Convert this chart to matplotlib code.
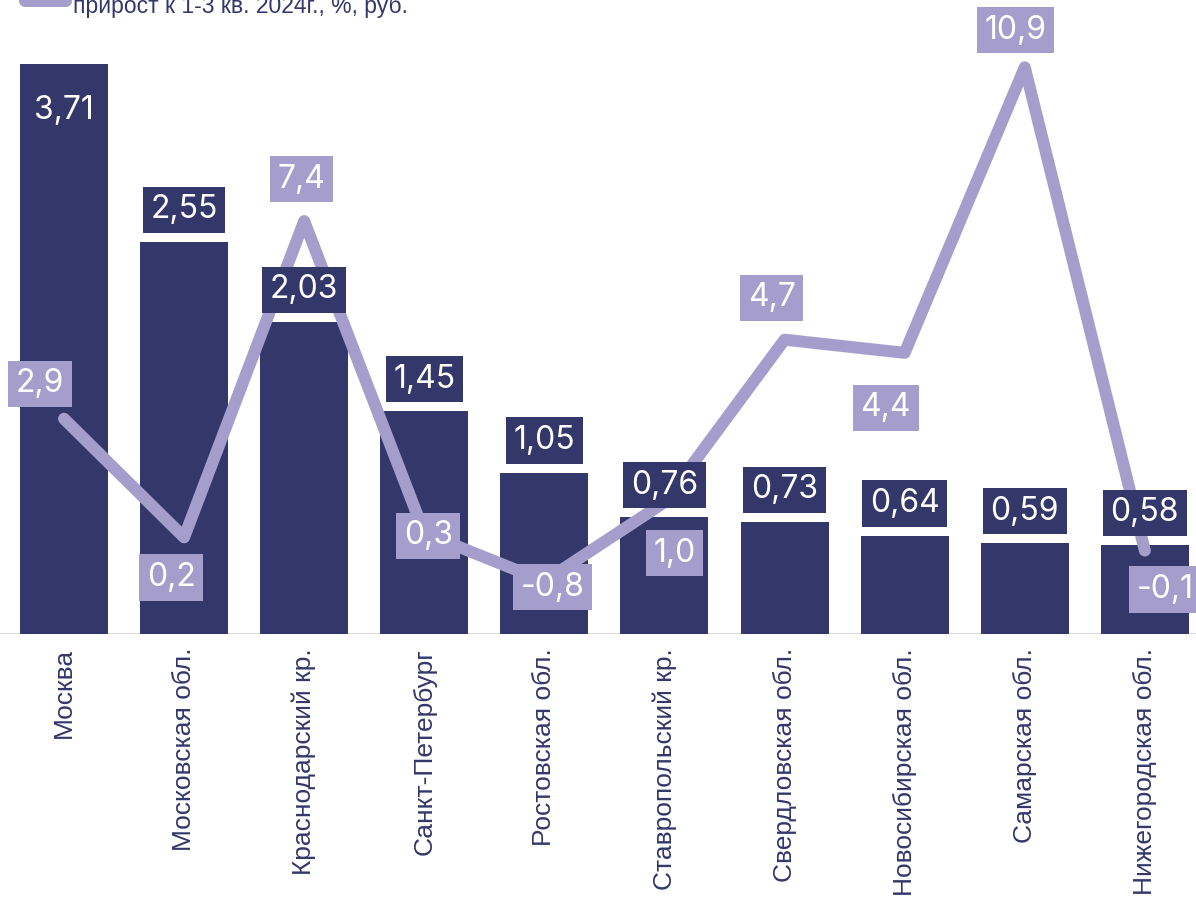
import matplotlib
matplotlib.use("Agg")
import matplotlib.pyplot as plt
from matplotlib.lines import Line2D
import numpy as np

# data
regions = ["Москва", "Московская обл.", "Краснодарский кр.", "Санкт-Петербург",
           "Ростовская обл.", "Ставропольский кр.", "Свердловская обл.",
           "Новосибирская обл.", "Самарская обл.", "Нижегородская обл."]
bar_values = [3.71, 2.55, 2.03, 1.45, 1.05, 0.76, 0.73, 0.64, 0.59, 0.58]
growth_values = [2.9, 0.2, 7.4, 0.3, -0.8, 1.0, 4.7, 4.4, 10.9, -0.1]
legend_text = "прирост к 1-3 кв. 2024г., %, руб."

NAVY = "#33376A"
LILAC = "#A59ECC"
GREY = "#D9D9D9"

W, H = 1196, 901
fig = plt.figure(figsize=(W / 100, H / 100), dpi=100)
# axes spans from pixel y=19 down to y=634, full width
ax = fig.add_axes([0, (H - 634) / H, 1, (634 - 19) / H])
ax2 = ax.twinx()

x = np.arange(len(regions))
ax.bar(x, bar_values, width=0.733, color=NAVY, zorder=2)
ax.set_xlim(-0.533, 9.426)
ax.set_ylim(0, 4)
ax2.set_ylim(-2, 12)
ax.axhline(0, color=GREY, lw=2.2, zorder=1)

for a in (ax, ax2):
    for s in a.spines.values():
        s.set_visible(False)
    a.set_yticks([])
ax2.set_zorder(ax.get_zorder() + 1)
ax.patch.set_visible(False)

ax.set_xticks(x)
ax.set_xticklabels(regions, rotation=90, fontsize=19, color=NAVY,
                   family=["Liberation Sans", "DejaVu Sans"], va="top")
ax.tick_params(axis="x", length=0, pad=10)

px = 0.72  # pixels -> points

# growth line on the secondary axis
ax2.plot(x, growth_values, color=LILAC, lw=12 * px, solid_joinstyle="round",
         solid_capstyle="round", zorder=3)

# bar labels (on ax2 so they sit above the line)
for i, v in enumerate(bar_values):
    dy = -47 if i == 0 else 32
    ax2.annotate(f"{v:.2f}".replace(".", ","), (x[i], v), xycoords=ax.transData,
                 xytext=(0, dy * px), textcoords="offset points",
                 ha="center", va="center", fontsize=23, color="white",
                 family=["Inter", "DejaVu Sans"],
                 bbox=dict(boxstyle="square,pad=0.24", fc=NAVY, ec="none"),
                 zorder=4)

label_offsets = [(-24, 35), (-13, -40), (-3, 42), (4, -3), (8, -6),
                 (10, -51), (-13, 42), (-19, -55), (-9, 37), (20, -39)]
for i, v in enumerate(growth_values):
    dx, dy = label_offsets[i]
    ax2.annotate(f"{v:.1f}".replace(".", ","), (x[i], v),
                 xytext=(dx * px, dy * px), textcoords="offset points",
                 ha="center", va="center", fontsize=23, color="white",
                 family=["Inter", "DejaVu Sans"],
                 bbox=dict(boxstyle="square,pad=0.24", fc=LILAC, ec="none"),
                 zorder=5, annotation_clip=False)

# legend, partly cut at the top edge like the source
fig.add_artist(Line2D([25 / W, 66 / W], [1 - 1 / H, 1 - 1 / H], color=LILAC,
                      lw=12 * px, solid_capstyle="round"))
fig.text(73 / W, 1 - 12.5 / H, legend_text, fontsize=16.5, color=NAVY,
         family=["Liberation Sans", "DejaVu Sans"], va="baseline", ha="left")

fig.savefig("out.png", dpi=100)
